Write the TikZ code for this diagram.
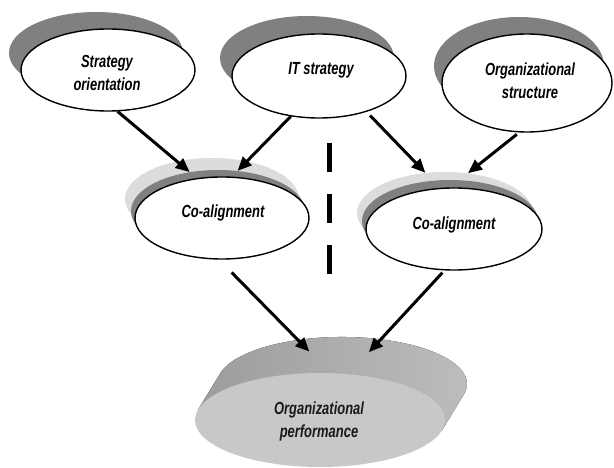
\documentclass[tikz,border=0pt]{standalone}
\usepackage{fontspec}
\newfontfamily\lblfont{Liberation Sans}[FakeStretch=0.74]
\usetikzlibrary{shapes.geometric,arrows.meta,calc}
\definecolor{shd}{HTML}{808080}
\definecolor{shl}{HTML}{DCDCDC}
\definecolor{face}{HTML}{C8C8C8}
\definecolor{bandL}{HTML}{9C9C9C}
\definecolor{bandR}{HTML}{BEBEBE}
\begin{document}
\begin{tikzpicture}[x=1pt,y=-1pt,
  sz/.style 2 args={minimum width=#1pt, minimum height=#2pt},
  wel/.style={ellipse, draw=black, line width=1.4pt, fill=white, inner sep=0pt},
  dsh/.style={ellipse, fill=shd, inner sep=0pt},
  lsh/.style={ellipse, fill=shl, inner sep=0pt},
  lbl/.style={font=\lblfont\bfseries\itshape\fontsize{17.5}{23}\selectfont, align=center, inner sep=0pt, text=black},
  arr/.style={line width=3pt, -{Triangle[length=14pt,width=12pt]}}]
\fill[white] (0,0) rectangle (614,468);
\useasboundingbox (0,0) rectangle (614,468);

% top row
\node[dsh, sz={174}{82}] (sos) at (96,53) {};
\node[wel, sz={174}{82}] (so) at (108,70) {};
\node[dsh, sz={174}{84}] (its) at (307,58) {};
\node[wel, sz={174}{84}] (it) at (319,76) {};
\node[dsh, sz={170}{98}] (oss) at (519,66) {};
\node[wel, sz={170}{98}] (os) at (527,83) {};

% co-alignment row
\node[lsh, sz={174}{82}] (ca1l) at (212,199) {};
\node[dsh, sz={174}{82}] (ca1d) at (218,211) {};
\node[wel, sz={174}{82}] (ca1) at (222,218) {};
\node[lsh, sz={176}{82}] (ca2l) at (445,213) {};
\node[dsh, sz={176}{82}] (ca2d) at (450,221) {};
\node[wel, sz={176}{82}] (ca2) at (454,229) {};

% performance disc
\coordinate (pbc) at (342,384);
\coordinate (pfc) at (320,420);
\fill[left color=bandL, right color=bandR]
  ($(pbc)+(121.8pt,-10.5pt)$) arc[start angle=-12.94, end angle=167.06, x radius=125pt, y radius=47pt]
  -- ($(pfc)+(-121.8pt,10.5pt)$) -- ($(pfc)+(121.8pt,-10.5pt)$) -- cycle;
\node[ellipse, sz={250}{94}, inner sep=0pt] (perfb) at (pbc) {};
\node[ellipse, sz={250}{94}, inner sep=0pt, fill=face] (perf) at (pfc) {};

% labels
\node[lbl] (sot) at (107,73) {Strategy\\orientation};
\node[lbl] (itt) at (321,70) {IT strategy};
\node[lbl] (ost) at (530,81) {Organizational\\structure};
\node[lbl] (ca1t) at (223,212.5) {Co-alignment};
\node[lbl] (ca2t) at (454,225) {Co-alignment};
\node[lbl, text=black!90] (perft) at (319,421) {Organizational\\performance};

% arrows
\draw[arr] (so.-77) -- (ca1d.126.7);
\draw[arr] (it.235.4) -- (ca1d.64.7);
\draw[arr, shorten <=5pt] (it.-37) -- (ca2l.116);
\draw[arr, shorten <=3pt] (os.261.6) -- (ca2l.60.9);
\draw[arr, shorten <=18pt, shorten >=-16.5pt] (ca1.266.5) -- (perfb.135.3);
\draw[arr, shorten <=3pt, shorten >=-17.8pt] (ca2.257.6) -- (perfb.49.3);

% divider
\coordinate (dtop) at (329,143);
\coordinate (dbot) at (329,274);
\draw[line width=5pt, dash pattern=on 29pt off 22pt] (dtop) -- (dbot);
\end{tikzpicture}
\end{document}
